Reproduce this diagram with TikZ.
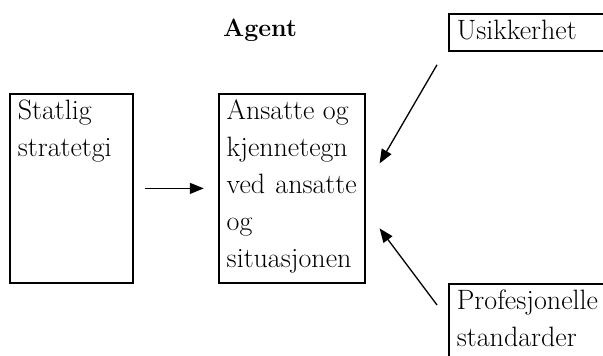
\documentclass[tikz,border=0pt]{standalone}
\usepackage{fontspec}
\usepackage{tikz}
\usetikzlibrary{arrows.meta}
\usetikzlibrary{positioning}
\usetikzlibrary{calc}
\tikzstyle{block} = [draw, rectangle, line width = 1.8pt, inner xsep = 8pt, inner ysep = 6pt, anchor = north west]
\tikzstyle{arrow} = [line width = 1.3pt, -{Triangle[length = 14pt, width = 11pt]}]

\begin{document}
\begin{tikzpicture}[x = 1pt, y = 1pt, font = \fontsize{28}{37}\selectfont]
	
		% Canvas
		\useasboundingbox (0, 0) rectangle (603, 356);
		\clip (0, 0) rectangle (603, 356);
		
		% Title
		\node[anchor = base, font = \fontsize{25}{37}\selectfont\bfseries] (title) at (260, 319) {Agent};
		
		% Statlig strategi
		\node[block] (statlig) at (9, 263) {\parbox[t][177pt][t]{107pt}{Statlig\\stratetgi}};
		
		% Agent box
		\node[block, right = 84pt of statlig] (agent) {\parbox[t][177pt][t]{130pt}{Ansatte og\\kjennetegn\\ved\hfill ansatte\\og\\situasjonen}};
		\coordinate[right = 11pt of statlig] (rstatlig);
		\coordinate[left = 14pt of agent] (lagent);
		\coordinate (ragentup) at ($(agent.east) + (14, 25)$);
		\coordinate (ragentdown) at ($(agent.east) + (14, -40)$);
		
		% Usikkerhet
		\node[block] (usikkerhet) at (448, 343) {\parbox[t][25pt][t]{200pt}{Usikkerhet}};
		\coordinate (busikkerhet) at ($(usikkerhet.south west) + (-11, -13)$);
		
		% Profesjonelle standarder
		\node[block] (profesjonelle) at (448, 73) {\parbox[t][100pt][t]{200pt}{Profesjonelle\\standarder}};
		\coordinate (tprofesjonelle) at ($(profesjonelle.north west) + (-11, -22)$);
		
		% Connect all nodes defined above
		\draw[arrow] (rstatlig) -- (lagent);
		\draw[arrow] (busikkerhet) -- (ragentup);
		\draw[arrow] (tprofesjonelle) -- (ragentdown);
		
	\end{tikzpicture}
\end{document}
